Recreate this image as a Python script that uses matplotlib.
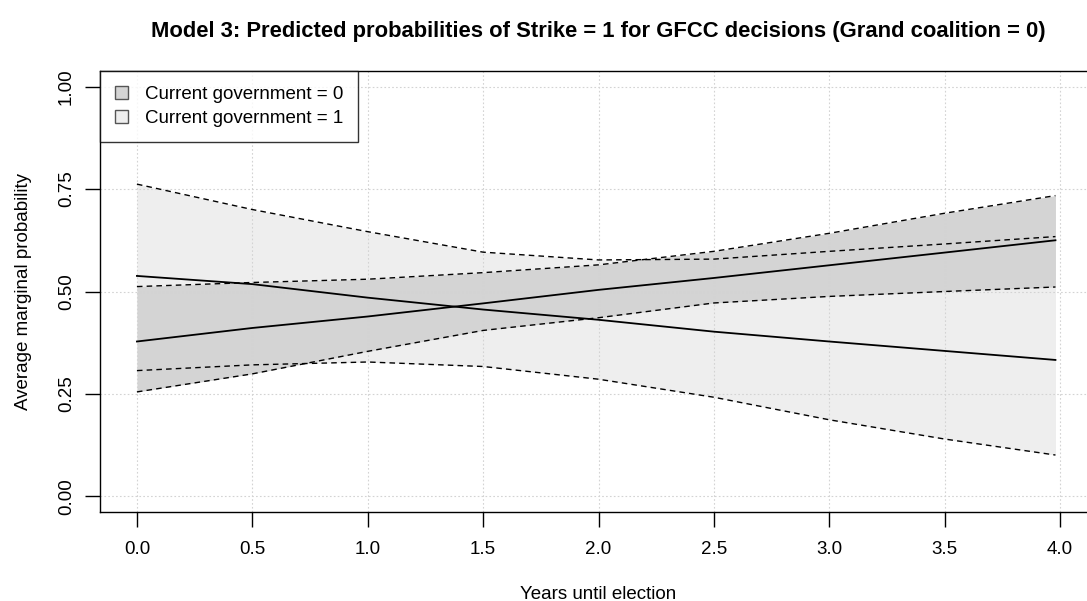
import matplotlib.pyplot as plt
from matplotlib.patches import Patch

plt.rcParams['font.family'] = ['Liberation Sans', 'DejaVu Sans']

years = [0.0, 0.5, 1.0, 1.5, 2.0, 2.5, 3.0, 3.5, 3.98]

# current government = 0
gov0_fit = [0.378, 0.411, 0.439, 0.471, 0.504, 0.533, 0.564, 0.595, 0.625]
gov0_upper = [0.512, 0.522, 0.530, 0.546, 0.565, 0.598, 0.642, 0.691, 0.734]
gov0_lower = [0.255, 0.299, 0.354, 0.405, 0.436, 0.472, 0.488, 0.500, 0.511]

# current government = 1
gov1_fit = [0.538, 0.518, 0.485, 0.456, 0.431, 0.402, 0.378, 0.355, 0.333]
gov1_upper = [0.762, 0.700, 0.646, 0.596, 0.577, 0.579, 0.598, 0.616, 0.634]
gov1_lower = [0.307, 0.321, 0.328, 0.317, 0.286, 0.242, 0.187, 0.140, 0.101]

xticks = [0.0, 0.5, 1.0, 1.5, 2.0, 2.5, 3.0, 3.5, 4.0]
yticks = [0.0, 0.25, 0.5, 0.75, 1.0]

fig = plt.figure(figsize=(10.87, 6.01), dpi=100)
ax = fig.add_axes([100 / 1087, 89 / 601, 997 / 1087, 441 / 601])

light = '#eeeeee'
dark = '#d4d4d4'
fs = 13.5

ax.fill_between(years, gov1_lower, gov1_upper, color=light, lw=0, zorder=1)
ax.fill_between(years, gov0_lower, gov0_upper, color=dark, lw=0, zorder=1.1)

for lo, hi, fit in [(gov1_lower, gov1_upper, gov1_fit), (gov0_lower, gov0_upper, gov0_fit)]:
    ax.plot(years, lo, color='black', ls=(0, (4, 3)), lw=1.0, zorder=3)
    ax.plot(years, hi, color='black', ls=(0, (4, 3)), lw=1.0, zorder=3)
    ax.plot(years, fit, color='black', lw=1.3, zorder=3)

ax.set_xlim(-0.16, 4.16)
ax.set_ylim(-0.038, 1.038)
ax.set_xticks(xticks)
ax.set_xticklabels(['%.1f' % v for v in xticks])
ax.set_yticks(yticks)
ax.set_yticklabels(['%.2f' % v for v in yticks], rotation=90, va='center')

for v in xticks:
    ax.axvline(v, color='#d3d3d3', ls=(0, (1.5, 2)), lw=0.8, zorder=2)
for v in yticks:
    ax.axhline(v, color='#d3d3d3', ls=(0, (1.5, 2)), lw=0.8, zorder=2)

ax.tick_params(axis='both', direction='out', length=11, width=1, labelsize=fs, pad=10)
ax.tick_params(axis='y', pad=7)
ax.spines['right'].set_visible(False)
for s in ['left', 'bottom', 'top']:
    ax.spines[s].set_linewidth(1.0)

ax.set_xlabel('Years until election', fontsize=fs, labelpad=20)
ax.set_ylabel('Average marginal probability', fontsize=fs, labelpad=19)
fig.text(598 / 1087, 1 - 31 / 601, 'Model 3: Predicted probabilities of Strike = 1 for GFCC decisions (Grand coalition = 0)',
         ha='center', va='center', fontsize=15.8, fontweight='bold')

handles = [Patch(facecolor=dark, edgecolor='#555555', label='Current government = 0'),
           Patch(facecolor=light, edgecolor='#555555', label='Current government = 1')]
leg = ax.legend(handles=handles, loc='upper left', bbox_to_anchor=(0, 1), fontsize=fs,
                frameon=True, fancybox=False, edgecolor='black', borderaxespad=0,
                handlelength=0.7, handleheight=0.7, handletextpad=0.9, borderpad=0.8, labelspacing=0.38)
leg.get_frame().set_linewidth(1.0)
leg.set_zorder(5)

fig.savefig('out.png', dpi=100)
